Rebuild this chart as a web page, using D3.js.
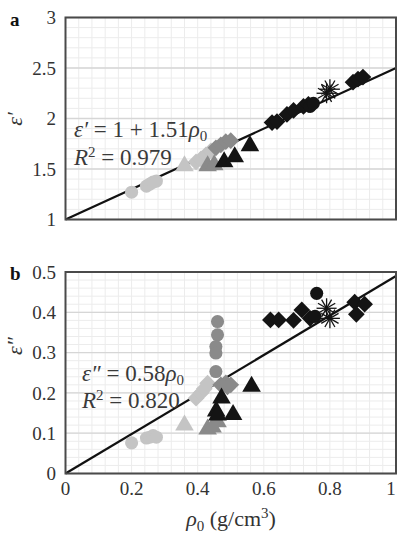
<!DOCTYPE html>
<html>
<head>
<meta charset="utf-8">
<script src="https://cdn.jsdelivr.net/npm/d3@7"></script>
<style>
  body { margin: 0; background: #fff; }
</style>
</head>
<body>
<div id="chart"></div>
<script>
var width = 399, height = 535;
const serif = "'Liberation Serif', 'Times New Roman', Times, serif";

// x ticks shared by both panels
const xTicks = [0, 0.2, 0.4, 0.6, 0.8, 1];
const yTicksA = [1, 1.5, 2, 2.5, 3];
const yTicksB = [0, 0.1, 0.2, 0.3, 0.4, 0.5];

// panel a : [rho0, eps']
const a_lightCircle = [[0.2, 1.27], [0.245, 1.33], [0.255, 1.35], [0.265, 1.37], [0.275, 1.38]];
const a_lightTriangle = [[0.36, 1.53]];
const a_lightDiamond = [[0.395, 1.57], [0.41, 1.6], [0.425, 1.64], [0.44, 1.68]];
const a_midTriangle = [[0.43, 1.53], [0.45, 1.54]];
const a_midDiamond = [[0.455, 1.71], [0.47, 1.74], [0.485, 1.77], [0.5, 1.78]];
const a_blackTriangle = [[0.48, 1.57], [0.512, 1.62], [0.558, 1.73]];
const a_blackDiamond = [[0.625, 1.96], [0.64, 1.97], [0.67, 2.04], [0.69, 2.08], [0.72, 2.12], [0.735, 2.14], [0.87, 2.36], [0.885, 2.39], [0.9, 2.41]];
const a_blackCircle = [[0.74, 2.12], [0.75, 2.15]];
const a_asterisk = [[0.79, 2.25], [0.8, 2.29]];
const a_fit = [[0, 1], [1, 2.5]];

// panel b : [rho0, eps'']
const b_lightCircle = [[0.2, 0.076], [0.245, 0.088], [0.255, 0.09], [0.265, 0.094], [0.275, 0.09]];
const b_lightTriangle = [[0.36, 0.12]];
const b_lightDiamond = [[0.395, 0.187], [0.41, 0.2], [0.42, 0.21], [0.43, 0.224]];
const b_midCircle = [[0.46, 0.377], [0.46, 0.344], [0.455, 0.315], [0.455, 0.299], [0.455, 0.253]];
const b_midTriangle = [[0.43, 0.11], [0.445, 0.115], [0.46, 0.128]];
const b_midDiamond = [[0.47, 0.22], [0.485, 0.225], [0.5, 0.22], [0.49, 0.215]];
const b_blackTriangle = [[0.472, 0.187], [0.456, 0.155], [0.46, 0.145], [0.507, 0.146], [0.563, 0.216]];
const b_blackDiamond = [[0.62, 0.381], [0.645, 0.381], [0.69, 0.38], [0.715, 0.406], [0.74, 0.385], [0.875, 0.425], [0.905, 0.42], [0.88, 0.395]];
const b_blackCircle = [[0.76, 0.447], [0.755, 0.39]];
const b_asterisk = [[0.79, 0.41], [0.8, 0.385]];
const b_fit = [[0, 0], [1, 0.49]];

const light = "#c4c4c4", mid = "#8a8a8a", black = "#141414";

var svg = d3.select("#chart").append("svg")
  .attr("width", width)
  .attr("height", height)
  .attr("font-family", serif);

var x = d3.scaleLinear().domain([0, 1]).range([65.5, 396]);

function panel(opts) {
  var y = d3.scaleLinear().domain(opts.domain).range([opts.bottom, opts.top]);
  var g = svg.append("g");

  // minor grid
  g.selectAll(".vminor").data(d3.range(0, 1.0001, 0.04)).enter().append("line")
    .attr("x1", d => x(d)).attr("x2", d => x(d))
    .attr("y1", opts.top).attr("y2", opts.bottom)
    .attr("stroke", "#ececec").attr("stroke-width", 1);
  g.selectAll(".hminor").data(d3.range(opts.domain[0], opts.domain[1] + 1e-6, opts.minor)).enter().append("line")
    .attr("x1", x(0)).attr("x2", x(1))
    .attr("y1", d => y(d)).attr("y2", d => y(d))
    .attr("stroke", "#ececec").attr("stroke-width", 1);
  // major grid
  g.selectAll(".hmajor").data(opts.ticks).enter().append("line")
    .attr("x1", x(0)).attr("x2", x(1))
    .attr("y1", d => y(d)).attr("y2", d => y(d))
    .attr("stroke", "#d6d6d6").attr("stroke-width", 1.3);

  // y tick labels
  g.selectAll(".ylab").data(opts.ticks).enter().append("text")
    .attr("x", 56).attr("y", d => y(d)).attr("dy", "0.35em")
    .attr("text-anchor", "end").attr("font-size", "19px").attr("fill", "#333")
    .text(d => d);

  // fit line
  g.append("line")
    .attr("x1", x(opts.fit[0][0])).attr("y1", y(opts.fit[0][1]))
    .attr("x2", x(opts.fit[1][0])).attr("y2", y(opts.fit[1][1]))
    .attr("stroke", "#111").attr("stroke-width", 2.2);

  // markers
  opts.series.forEach(s => {
    if (s.shape === "asterisk") {
      s.data.forEach(d => {
        var cx = x(d[0]), cy = y(d[1]);
        g.selectAll(null).data(d3.range(0, 180, 30)).enter().append("line")
          .attr("x1", a => cx - 10 * Math.cos(a * Math.PI / 180))
          .attr("y1", a => cy - 10 * Math.sin(a * Math.PI / 180))
          .attr("x2", a => cx + 10 * Math.cos(a * Math.PI / 180))
          .attr("y2", a => cy + 10 * Math.sin(a * Math.PI / 180))
          .attr("stroke", s.color).attr("stroke-width", 1.3);
      });
      return;
    }
    var sym = s.shape === "circle" ? d3.symbolCircle : s.shape === "triangle" ? d3.symbolTriangle : d3.symbolSquare;
    var size = s.shape === "circle" ? 135 : s.shape === "triangle" ? 150 : 140;
    g.selectAll(null).data(s.data).enter().append("path")
      .attr("d", d3.symbol().type(sym).size(size))
      .attr("transform", d => "translate(" + x(d[0]) + "," + y(d[1]) + ")" + (s.shape === "diamond" ? " rotate(45)" : ""))
      .attr("fill", s.color);
  });

  // frame
  g.append("rect")
    .attr("x", x(0)).attr("y", opts.top)
    .attr("width", x(1) - x(0)).attr("height", opts.bottom - opts.top)
    .attr("fill", "none").attr("stroke", "#4a4a4a").attr("stroke-width", 2);

  // equation
  opts.eq.forEach((line, i) => {
    var t = g.append("text")
      .attr("x", opts.eqX).attr("y", opts.eqY[i])
      .attr("font-size", "23px").attr("fill", "#3a3a3a");
    line.forEach(p => {
      var ts = t.append("tspan").text(p.t);
      if (p.i) ts.attr("font-style", "italic");
      if (p.sub) ts.attr("font-size", "15px").attr("dy", "4");
      if (p.sup) ts.attr("font-size", "15px").attr("dy", "-8");
      if (p.reset) ts.attr("dy", p.reset);
    });
  });

  // axis label
  g.append("text")
    .attr("transform", "translate(" + opts.labelX + "," + opts.labelY + ") rotate(-90)")
    .attr("text-anchor", "middle").attr("font-size", "22px").attr("font-style", "italic")
    .attr("fill", "#333")
    .text(opts.label);

  // panel letter
  g.append("text")
    .attr("x", 10).attr("y", opts.top + 8)
    .attr("font-size", "19px").attr("font-weight", "bold").attr("fill", "#111")
    .text(opts.letter);

  return y;
}

panel({
  domain: [1, 3], top: 17.5, bottom: 219.5, ticks: yTicksA, minor: 0.1,
  fit: a_fit, letter: "a", label: "\u03b5\u2032", labelX: 22, labelY: 119,
  eqX: 74, eqY: [137, 165],
  eq: [
    [{t: "\u03b5\u2032", i: true}, {t: " = 1 + 1.51"}, {t: "\u03c1", i: true}, {t: "0", sub: true}],
    [{t: "R", i: true}, {t: "2", sup: true}, {t: " = 0.979", reset: "8"}]
  ],
  series: [
    {data: a_lightCircle, shape: "circle", color: light},
    {data: a_lightTriangle, shape: "triangle", color: light},
    {data: a_lightDiamond, shape: "diamond", color: light},
    {data: a_midTriangle, shape: "triangle", color: mid},
    {data: a_midDiamond, shape: "diamond", color: mid},
    {data: a_blackTriangle, shape: "triangle", color: black},
    {data: a_blackDiamond, shape: "diamond", color: black},
    {data: a_blackCircle, shape: "circle", color: black},
    {data: a_asterisk, shape: "asterisk", color: black}
  ]
});

panel({
  domain: [0, 0.5], top: 272, bottom: 473.5, ticks: yTicksB, minor: 0.02,
  fit: b_fit, letter: "b", label: "\u03b5\u2033", labelX: 22, labelY: 346,
  eqX: 82, eqY: [381, 408],
  eq: [
    [{t: "\u03b5\u2033", i: true}, {t: " = 0.58"}, {t: "\u03c1", i: true}, {t: "0", sub: true}],
    [{t: "R", i: true}, {t: "2", sup: true}, {t: " = 0.820", reset: "8"}]
  ],
  series: [
    {data: b_lightCircle, shape: "circle", color: light},
    {data: b_lightTriangle, shape: "triangle", color: light},
    {data: b_lightDiamond, shape: "diamond", color: light},
    {data: b_midCircle, shape: "circle", color: mid},
    {data: b_midTriangle, shape: "triangle", color: mid},
    {data: b_midDiamond, shape: "diamond", color: mid},
    {data: b_blackTriangle, shape: "triangle", color: black},
    {data: b_blackDiamond, shape: "diamond", color: black},
    {data: b_blackCircle, shape: "circle", color: black},
    {data: b_asterisk, shape: "asterisk", color: black}
  ]
});

// x tick labels (bottom panel only); last one kept inside the window
svg.selectAll(".xlab").data(xTicks).enter().append("text")
  .attr("x", d => Math.min(x(d), 391)).attr("y", 495)
  .attr("text-anchor", "middle").attr("font-size", "19px").attr("fill", "#333")
  .text(d => d);

// x axis label
var xl = svg.append("text")
  .attr("x", 231).attr("y", 526)
  .attr("text-anchor", "middle").attr("font-size", "22px").attr("fill", "#333");
xl.append("tspan").attr("font-style", "italic").text("\u03c1");
xl.append("tspan").attr("font-size", "15px").attr("dy", "5").text("0");
xl.append("tspan").attr("dy", "-5").text(" (g/cm");
xl.append("tspan").attr("font-size", "15px").attr("dy", "-8").text("3");
xl.append("tspan").attr("dy", "8").text(")");
</script>
</body>
</html>
